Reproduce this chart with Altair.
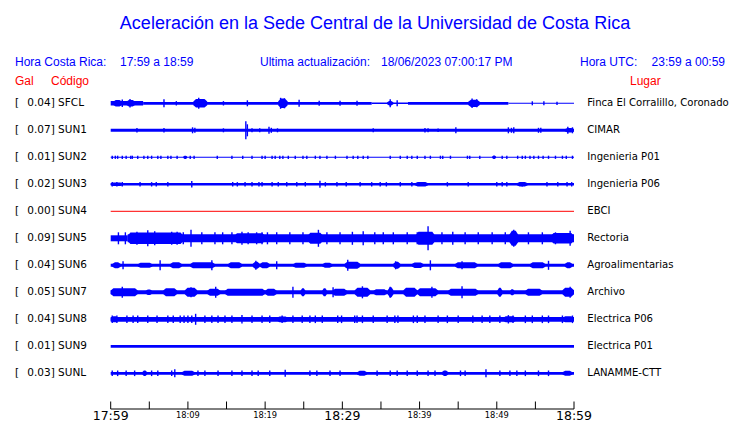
import altair as alt
import pandas as pd

# ---------------- data ----------------
STATIONS = ["SFCL", "SUN1", "SUN2", "SUN3", "SUN4", "SUN5", "SUN6", "SUN7", "SUN8", "SUN9", "SUNL"]
PEAK_GAL = [0.04, 0.07, 0.01, 0.02, 0.00, 0.09, 0.04, 0.05, 0.04, 0.01, 0.03]
PLACES = ["Finca El Corralillo, Coronado", "CIMAR", "Ingenieria P01", "Ingenieria P06", "EBCI",
          "Rectoria", "Agroalimentarias", "Archivo", "Electrica P06", "Electrica P01", "LANAMME-CTT"]

TIME_SPAN = [0, 60]                      # minutes after 17:59
TICK_MINUTES = list(range(0, 61, 5))
TICK_LABEL_MINUTES = [0, 10, 20, 30, 40, 50, 60]
TICK_LABELS = ["17:59", "18:09", "18:19", "18:29", "18:39", "18:49", "18:59"]
MAJOR_LABEL_MINUTES = [0, 30, 60]

# steady background noise band: (start minute, end minute, half amplitude)
BASE_SFCL = [(0, 4.2, 2.2), (4.2, 33.8, 1.4), (33.8, 38.5, 0.7), (38.5, 51.5, 1.4), (51.5, 60, 0.5)]
BASE_SUN1 = [(0, 60, 1.5)]
BASE_SUN2 = [(0, 60, 0.5)]
BASE_SUN3 = [(0, 60, 1.3)]
BASE_SUN4 = []
BASE_SUN5 = [(0, 2.2, 3.0), (2.2, 60, 4.0)]
BASE_SUN6 = [(0, 60, 1.5)]
BASE_SUN7 = [(0, 60, 2.0)]
BASE_SUN8 = [(0, 60, 2.4)]
BASE_SUN9 = [(0, 60, 1.4)]
BASE_SUNL = [(0, 60, 1.4)]

# bursts of stronger shaking: (start minute, end minute, peak half amplitude)
BURST_SFCL = [(0.3, 1.5, 3.2), (2.0, 3.2, 3.2), (10.7, 12.5, 4.2), (21.7, 22.9, 4.8), (35.8, 36.6, 2.2),
              (46.3, 47.8, 3.6)]
BURST_SUN1 = [(58.8, 60, 2.2)]
BURST_SUN2 = [(9.4, 9.9, 1.6), (49.4, 49.9, 1.8)]
BURST_SUN3 = [(0, 1.6, 1.8), (39.4, 41.1, 2.2), (52.6, 54.0, 2.2)]
BURST_SUN4 = []
BURST_SUN5 = [(2.2, 9.4, 5.8), (16.0, 20.0, 5.0), (25.5, 27.5, 5.5), (39.5, 42.0, 6.5), (51.6, 52.8, 7.5),
              (57.0, 60, 5.2)]
BURST_SUN6 = [(0.2, 1.3, 3), (3.5, 5.4, 2.5), (7.7, 9.2, 3), (10.3, 13.5, 3), (15.2, 17.0, 3),
              (18.4, 19.3, 3.5), (19.3, 20.6, 3), (23.6, 25.4, 2.5), (27.4, 28.7, 2.5), (30.3, 32.3, 3.5),
              (36.6, 37.5, 3.5), (39.0, 40.5, 2.7), (44.6, 47.5, 3), (50.2, 52.1, 3), (54.3, 56.3, 3),
              (58.8, 59.8, 3)]
BURST_SUN7 = [(0, 3.5, 4), (4.5, 5.4, 2.8), (6.8, 8.6, 4), (9.6, 11.2, 4.5), (12.5, 14.2, 3.5),
              (14.8, 20.0, 3.5), (20.0, 21.5, 3.5), (24.6, 25.2, 4), (27.4, 28.0, 4), (28.7, 30.6, 3.5),
              (31.6, 33.6, 4.5), (34.0, 35.8, 3), (35.9, 36.6, 5), (37.9, 39.7, 4.5), (39.7, 42.4, 4),
              (43.7, 47.6, 3.5), (50.1, 50.7, 4.5), (51.7, 52.3, 3), (53.7, 55.9, 3.5), (58.5, 60, 4.5)]
BURST_SUN8 = [(0, 1.0, 3.0), (21.5, 23.0, 2.9), (50.8, 52.5, 3.0), (58.5, 60, 3.0)]
BURST_SUN9 = []
BURST_SUNL = [(4.1, 4.7, 2.8), (9.2, 10.9, 2.5), (31.9, 33.2, 2.5), (42.9, 43.7, 2.8), (58.5, 59.8, 2.5)]

# single spikes: (minute, half amplitude)
SPK_SFCL = [(1.5, 3.8), (2.5, 4.2), (6.9, 4), (8.5, 2.2), (11.4, 5.5), (14.6, 2.2), (17.7, 3),
            (22.0, 5.5), (22.5, 5), (24.4, 3.5), (27.0, 2.5), (29.7, 2.5), (31.9, 2.5), (36.2, 4),
            (37.1, 3), (46.8, 4.8), (47.4, 4), (54.6, 2), (56.1, 2), (57.8, 1.6)]
SPK_SUN1 = [(3.4, 2.2), (6.9, 2.2), (10.6, 3), (10.9, 2.5), (14.6, 2), (17.5, 9), (17.7, 6),
            (18.3, 2), (19.3, 2), (20.5, 3.5), (20.8, 2.5), (21.6, 2), (34.0, 2), (40.7, 2.2),
            (41.1, 2), (42.4, 1.8), (44.7, 3), (51.5, 3), (51.9, 2.5), (52.2, 3), (55.4, 2.5),
            (55.7, 2.5), (59.2, 3.5), (59.8, 3)]
SPK_SUN2 = [(0.2, 1.6), (0.6, 1.6), (0.9, 1.6), (1.5, 1.6), (2.0, 1.6), (2.6, 1.6), (2.8, 1.6),
            (3.5, 1.6), (4.3, 1.6), (4.8, 1.6), (5.3, 1.6), (6.1, 1.6), (6.5, 1.6), (7.4, 1.6),
            (7.8, 1.6), (8.6, 1.6), (10.3, 1.6), (10.8, 1.6), (13.8, 1.6), (15.7, 1.6), (17.1, 1.6),
            (18.3, 1.6), (19.6, 1.6), (20.0, 1.6), (20.9, 1.6), (21.3, 1.6), (21.9, 1.6), (22.3, 1.6),
            (23.0, 1.6), (23.9, 1.6), (24.9, 1.6), (25.4, 1.6), (26.5, 1.6), (27.1, 1.6), (28.0, 1.6),
            (29.1, 1.6), (30.6, 1.6), (31.4, 1.6), (32.0, 1.6), (32.7, 1.6), (33.3, 1.6), (36.2, 1.6),
            (37.5, 1.6), (38.4, 1.6), (39.0, 1.6), (39.7, 1.6), (40.7, 1.6), (41.4, 1.6), (42.7, 1.6),
            (43.0, 1.6), (44.0, 1.6), (46.2, 1.6), (46.5, 1.6), (47.8, 1.6), (50.7, 1.6), (51.3, 1.6),
            (52.7, 1.6), (53.3, 1.6), (53.7, 1.6), (54.3, 1.6), (54.8, 1.6), (55.4, 1.6), (56.0, 1.6),
            (56.7, 1.6), (57.6, 1.6), (58.5, 1.6), (59.0, 1.6), (59.8, 1.6)]
SPK_SUN3 = [(0.2, 2.2), (0.8, 2.2), (1.5, 2.2), (3.8, 2.2), (5.3, 2.2), (5.9, 2.2), (7.4, 2.2),
            (10.5, 3.2), (15.8, 2.2), (16.4, 2.2), (17.4, 2.2), (18.3, 2.2), (19.2, 2.2), (19.6, 2.2),
            (20.9, 2.2), (21.7, 2.2), (22.8, 2.2), (24.1, 2.2), (25.2, 2.2), (27.1, 3.5), (27.8, 2.2),
            (29.3, 2.2), (30.5, 2.2), (32.3, 2.2), (33.8, 2.2), (34.9, 2.2), (35.7, 2.2), (37.5, 2.2),
            (39.0, 2.2), (43.6, 2.2), (46.3, 2.2), (50.0, 2.2), (50.7, 2.2), (51.3, 2.2), (53.3, 2.2),
            (56.5, 2.2), (57.9, 2.2), (59.1, 2.2), (59.7, 2.2)]
SPK_SUN4 = []
SPK_SUN5 = [(1.0, 6), (1.9, 6), (3.4, 6.5), (4.8, 8), (5.7, 7), (7.9, 6.5), (8.6, 6.5), (9.4, 6),
            (10.4, 8.5), (11.8, 6), (13.5, 6), (14.5, 6), (15.7, 6), (17.0, 6.5), (17.8, 6),
            (18.9, 6), (19.6, 6), (20.3, 6), (21.5, 6), (23.2, 6), (24.9, 6), (26.9, 8.5), (28.0, 6),
            (29.7, 6), (31.3, 6.5), (32.7, 7), (34.2, 6), (35.3, 6), (36.6, 6), (38.4, 6),
            (39.7, 6), (41.1, 12), (42.9, 6), (44.3, 6.5), (45.9, 6), (47.6, 6), (49.4, 6),
            (51.1, 6), (52.2, 8.5), (54.1, 6), (55.9, 6), (57.6, 6), (59.5, 7.5)]
SPK_SUN6 = [(1.6, 4), (6.4, 5), (13.1, 5), (18.8, 4.5), (21.5, 4), (30.7, 5.5), (36.9, 4),
            (41.4, 5), (45.5, 4), (56.7, 4.5)]
SPK_SUN7 = [(1.5, 5.5), (10.4, 5), (13.6, 5.5), (23.6, 5.5), (28.8, 5), (32.6, 6), (36.2, 5.5),
            (41.6, 5.5), (45.5, 6), (59.5, 5.5)]
SPK_SUN8 = [(0.2, 3.8), (0.8, 3.8), (2.1, 3.8), (2.9, 3.8), (3.5, 3.8), (4.8, 3.8), (6.0, 3.8),
            (7.4, 3.8), (8.1, 3.8), (9.0, 3.8), (9.5, 3.8), (10.0, 3.8), (10.5, 3.8), (11.0, 5.5),
            (12.2, 3.8), (13.1, 3.8), (13.9, 3.8), (14.8, 3.8), (15.7, 3.8), (17.0, 4.2), (18.3, 3.8),
            (19.6, 3.8), (20.6, 3.8), (22.2, 3.8), (23.6, 3.8), (24.8, 3.8), (25.8, 3.8), (26.5, 3.8),
            (27.4, 3.8), (29.4, 3.8), (29.9, 3.8), (31.6, 3.8), (31.9, 3.8), (32.6, 3.8), (34.0, 3.8),
            (35.8, 3.8), (36.8, 3.8), (37.2, 3.8), (39.2, 3.8), (39.7, 3.8), (40.7, 3.8), (42.4, 3.8),
            (43.6, 3.8), (45.0, 3.8), (46.9, 3.8), (48.1, 3.8), (49.1, 3.8), (50.4, 3.8), (51.5, 4.2),
            (52.1, 3.8), (53.7, 3.8), (54.6, 3.8), (55.9, 3.8), (56.7, 3.8), (58.5, 3.8), (59.8, 3.8)]
SPK_SUN9 = []
SPK_SUNL = [(0.2, 2.8), (0.9, 2.8), (2.0, 2.8), (3.1, 2.8), (5.3, 2.8), (6.1, 2.8), (7.9, 2.8),
            (8.3, 4), (11.3, 2.8), (12.2, 2.8), (13.9, 2.8), (15.7, 2.8), (17.0, 2.8), (18.3, 2.8),
            (19.1, 2.8), (20.6, 2.8), (22.6, 3.5), (25.8, 2.8), (26.7, 2.8), (28.4, 2.8), (29.7, 2.8),
            (34.5, 2.8), (36.2, 2.8), (37.1, 2.8), (38.4, 2.8), (39.7, 2.8), (41.1, 2.8), (42.0, 2.8),
            (45.3, 2.8), (45.9, 2.8), (48.6, 4), (50.4, 2.8), (51.7, 2.8), (52.6, 2.8), (53.7, 2.8),
            (55.4, 2.8), (56.7, 2.8)]

BASES = dict(zip(STATIONS, [BASE_SFCL, BASE_SUN1, BASE_SUN2, BASE_SUN3, BASE_SUN4, BASE_SUN5, BASE_SUN6,
                            BASE_SUN7, BASE_SUN8, BASE_SUN9, BASE_SUNL]))
BURSTS = dict(zip(STATIONS, [BURST_SFCL, BURST_SUN1, BURST_SUN2, BURST_SUN3, BURST_SUN4, BURST_SUN5,
                             BURST_SUN6, BURST_SUN7, BURST_SUN8, BURST_SUN9, BURST_SUNL]))
SPIKES = dict(zip(STATIONS, [SPK_SFCL, SPK_SUN1, SPK_SUN2, SPK_SUN3, SPK_SUN4, SPK_SUN5, SPK_SUN6,
                             SPK_SUN7, SPK_SUN8, SPK_SUN9, SPK_SUNL]))

# ---------------- layout / style ----------------
ROW = 27.0
BLUE = "#0000ff"
RED = "#ff0000"
M = 8  # page margin
W, H = 740 - 2 * M, 423 - M - 1

X_SCALE = alt.Scale(domain=TIME_SPAN, range=[110.7 - M, 574.0 - M], nice=False, zero=False)
Y_SCALE = alt.Scale(domain=[-ROW / 2, 10 * ROW + ROW / 2],
                    range=[103.3 - M - ROW / 2, 103.3 - M + 10 * ROW + ROW / 2], nice=False, zero=False)

base_rows, burst_rows, spk_rows, st_rows = [], [], [], []
bid = 0
for i, code in enumerate(STATIONS):
    c = i * ROW
    st_rows.append(dict(code=code, yc=c, t0=TIME_SPAN[0], t1=TIME_SPAN[1], peak=PEAK_GAL[i],
                        left=f"{PEAK_GAL[i]:.2f}] {code}", place=PLACES[i]))
    for t0, t1, h in BASES[code]:
        base_rows.append(dict(code=code, t0=t0, t1=t1, lo=c - h, hi=c + h))
    for t0, t1, h in BURSTS[code]:
        # burst envelope drawn as a trapezoid: ramps up, holds the peak, ramps down
        r = min(0.35, (t1 - t0) / 3.0)
        for t, hh in ((t0, 0.45 * h), (t0 + r, h), (t1 - r, h), (t1, 0.45 * h)):
            burst_rows.append(dict(bid=f"b{bid}", t=t, lo=c - hh, hi=c + hh))
        bid += 1
    for t, h in SPIKES[code]:
        spk_rows.append(dict(code=code, t=t, lo=c - h, hi=c + h))

base_df = pd.DataFrame(base_rows)
burst_df = pd.DataFrame(burst_rows)
spk_df = pd.DataFrame(spk_rows)
st_df = pd.DataFrame(st_rows)
span_df = pd.DataFrame({"t0": [TIME_SPAN[0]], "t1": [TIME_SPAN[1]]})
tick_df = pd.DataFrame({"m": TICK_MINUTES})
lab_df = pd.DataFrame({"m": TICK_LABEL_MINUTES, "lab": TICK_LABELS,
                       "major": [m in MAJOR_LABEL_MINUTES for m in TICK_LABEL_MINUTES]})
major_df = lab_df[lab_df["major"]].drop(columns="major")
minor_df = lab_df[~lab_df["major"]].drop(columns="major")
dead_df = st_df[st_df["peak"] == 0]

XE = lambda f: alt.X(f, type="quantitative", scale=X_SCALE, axis=None)
YE = lambda f: alt.Y(f, type="quantitative", scale=Y_SCALE, axis=None)

bands = alt.Chart(base_df).mark_rect(color=BLUE).encode(x=XE("t0"), x2="t1", y=YE("lo"), y2="hi")
bursts = alt.Chart(burst_df).mark_area(color=BLUE, opacity=1, interpolate="linear", orient="vertical").encode(
    x=XE("t"), y=alt.Y("lo", type="quantitative", scale=Y_SCALE, axis=None, stack=None), y2="hi",
    detail="bid:N")
spikes = alt.Chart(spk_df).mark_rule(color=BLUE, strokeWidth=1.4).encode(x=XE("t"), y=YE("lo"), y2="hi")
dead = alt.Chart(dead_df).mark_rule(color=RED, strokeWidth=1).encode(x=XE("t0"), x2="t1", y=YE("yc"))

lab_font = dict(font="DejaVu Sans", color="black", baseline="middle", align="left")
bracket = alt.Chart(st_df).mark_text(fontSize=10.5, text="[", **lab_font).encode(
    x=alt.value(15 - M), y=YE("yc"))
left = alt.Chart(st_df).mark_text(fontSize=10.5, **lab_font).encode(
    x=alt.value(27.3 - M), y=YE("yc"), text="left:N")
right = alt.Chart(st_df).mark_text(fontSize=10.1, **lab_font).encode(
    x=alt.value(587.3 - M), y=YE("yc"), text="place:N")

# time axis
AX_Y = 409 - M
baseline = alt.Chart(span_df).mark_rule(color="black", strokeWidth=1).encode(
    x=XE("t0"), x2="t1", y=alt.value(AX_Y))
ticks = alt.Chart(tick_df).mark_rule(color="black", strokeWidth=1).encode(
    x=XE("m"), y=alt.value(AX_Y - 7.5), y2=alt.value(AX_Y))
big_labels = alt.Chart(major_df).mark_text(
    font="DejaVu Sans", fontSize=12.5, color="black", align="center", baseline="alphabetic").encode(
    x=XE("m"), y=alt.value(419.5 - M), text="lab:N")
small_labels = alt.Chart(minor_df).mark_text(
    font="DejaVu Sans", fontSize=8.3, color="black", align="center", baseline="alphabetic").encode(
    x=XE("m"), y=alt.value(418 - M), text="lab:N")

# header texts
HEAD_TEXT = ["Aceleración en la Sede Central de la Universidad de Costa Rica",
             "Hora Costa Rica:", "17:59 a 18:59", "Ultima actualización:", "18/06/2023 07:00:17 PM",
             "Hora UTC:", "23:59 a 00:59", "Gal", "Código", "Lugar"]
HEAD_X = [375, 15, 120, 260, 381, 580, 725, 15, 51, 630]
HEAD_Y = [28.5, 65.5, 65.5, 65.5, 65.5, 65.5, 65.5, 84.5, 84.5, 84.5]
HEAD_SIZE = [18, 12, 12, 12, 12, 12, 12, 12, 12, 12]
HEAD_COLOR = [BLUE] * 7 + [RED] * 3
HEAD_ALIGN = ["center", "left", "left", "left", "left", "left", "right", "left", "left", "left"]

headers = []
for s, x, y, sz, col, al in zip(HEAD_TEXT, HEAD_X, HEAD_Y, HEAD_SIZE, HEAD_COLOR, HEAD_ALIGN):
    headers.append(
        alt.Chart(span_df).mark_text(text=s, font="Liberation Sans", fontSize=sz, color=col, align=al,
                                     baseline="alphabetic").encode(x=alt.value(x - M), y=alt.value(y - M)))

chart = alt.layer(bands, bursts, spikes, dead, bracket, left, right, baseline, ticks, big_labels,
                  small_labels, *headers).properties(
    width=W, height=H, padding=0, autosize=alt.AutoSizeParams(type="none"), background="white"
).configure_view(strokeWidth=0)

chart.save("out.html", embed_options={"renderer": "svg", "actions": False})
